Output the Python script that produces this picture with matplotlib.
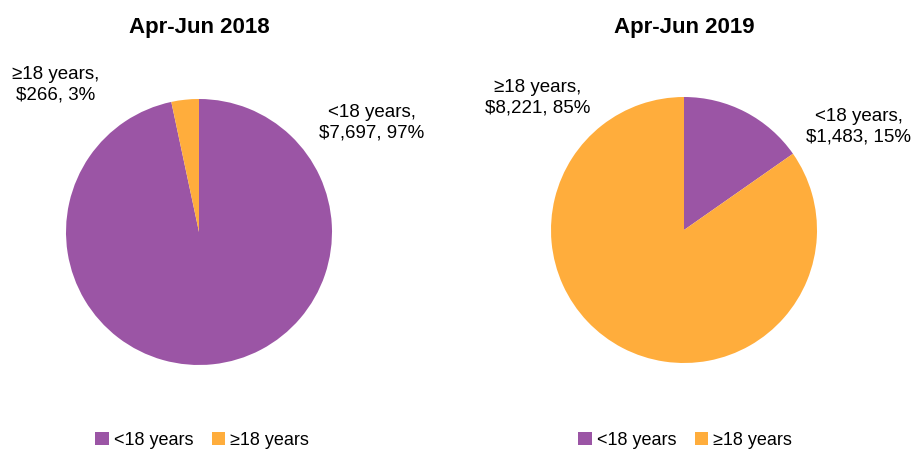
import matplotlib
matplotlib.use("Agg")
import matplotlib.pyplot as plt
from matplotlib.patches import Patch

plt.rcParams['font.family'] = ['Liberation Sans', 'DejaVu Sans']

categories = ["<18 years", "≥18 years"]
periods = ["Apr-Jun 2018", "Apr-Jun 2019"]
values_2018 = [7697, 266]
values_2019 = [1483, 8221]
pct_2018 = [97, 3]
pct_2019 = [15, 85]
colors = ["#9B55A5", "#FFAD3C"]

W, H = 914, 452
fig = plt.figure(figsize=(W / 100, H / 100), dpi=100)

# pie centres / radius in pixels, label anchor positions in pixels
layouts = [
    dict(cx=199, cy=233, r=133, title_y=28,
         label_pos=[(372, 123), (56, 85)], leg_x=95),
    dict(cx=684, cy=231, r=133, title_y=28,
         label_pos=[(859, 127), (538, 98)], leg_x=578),
]
datasets = [(values_2018, pct_2018), (values_2019, pct_2019)]

for period, (vals, pcts), lay in zip(periods, datasets, layouts):
    r = lay["r"]
    ax = fig.add_axes([(lay["cx"] - r) / W, (H - lay["cy"] - r) / H,
                       2 * r / W, 2 * r / H])
    ax.pie(vals, colors=colors, startangle=90, counterclock=False,
           radius=1.0, wedgeprops=dict(linewidth=0))
    ax.set_xlim(-1, 1)
    ax.set_ylim(-1, 1)
    ax.set_aspect("equal")
    ax.axis("off")

    fig.text(lay["cx"] / W, 1 - lay["title_y"] / H, period,
             ha="center", va="center", fontsize=16, fontweight="bold")

    for cat, v, p, (lx, ly) in zip(categories, vals, pcts, lay["label_pos"]):
        fig.text(lx / W, 1 - ly / H, f"{cat},\n${v:,}, {p}%",
                 ha="center", va="center", fontsize=13.5, linespacing=1.3)

    handles = [Patch(facecolor=c, edgecolor="none") for c in colors]
    fig.legend(handles, categories, loc="center left",
               bbox_to_anchor=(lay["leg_x"] / W, 1 - 441 / H),
               ncol=2, frameon=False, fontsize=13,
               handlelength=0.75, handleheight=0.75, handletextpad=0.3,
               columnspacing=1.0, borderaxespad=0, borderpad=0)

fig.savefig("out.png", dpi=100, facecolor="white")
